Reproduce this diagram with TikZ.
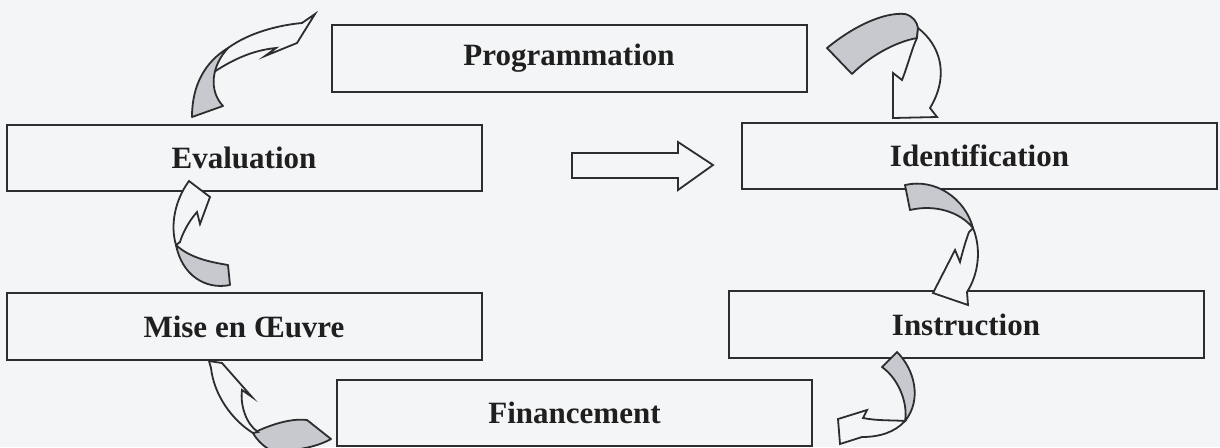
\documentclass[tikz,border=0pt]{standalone}
\usepackage{fontspec}
\setmainfont{Liberation Serif}
\definecolor{bg}{RGB}{244,245,247}
\definecolor{shade}{RGB}{200,201,206}
\definecolor{ink}{RGB}{45,45,48}
\begin{document}
\begin{tikzpicture}[x=0.5pt,y=-0.5pt,
  stagebox/.style={draw=ink,line width=1pt,rectangle,inner sep=0pt,fill=bg,
    minimum width=237.5pt,minimum height=33.3pt,
    font=\fontsize{15.5}{18}\selectfont\bfseries,text=black!88},
  back/.style={draw=ink,fill=shade,line width=0.9pt,line join=round},
  front/.style={draw=ink,fill=bg,line width=0.9pt,line join=miter}]
\useasboundingbox (0,0) rectangle (1220,447);
\clip (0,0) rectangle (1220,447);
\fill[bg] (0,0) rectangle (1220,447);

% stages
\node[stagebox] (prog)  at (569,58.5)  {Programmation};
\node[stagebox] (ident) at (979.5,156) {Identification};
\node[stagebox] (eval)  at (244,158)   {Evaluation};
\node[stagebox] (instr) at (966,324.5) {Instruction};
\node[stagebox] (mise)  at (244,326.5) {Mise en \OE uvre};
\node[stagebox] (fin)   at (574.5,413) {Financement};

% straight block arrow
\draw[front] (572,153) -- (678,153) -- (678,142) -- (713,165) -- (678,190)
  -- (678,178) -- (572,178) -- cycle;

% A: Evaluation -> Programmation
\draw[front] (214,72) .. controls (235,58) and (255,50) .. (276,48) -- (265,56)
  -- (297,43) -- (315,14) -- (302,23) .. controls (280,25) and (250,32) .. (228,48)
  .. controls (220,56) and (216,64) .. (214,72) -- cycle;
\draw[back] (192,117) .. controls (192,85) and (205,62) .. (228,48)
  .. controls (212,65) and (208,90) .. (223,106) -- cycle;

% B: Programmation -> Identification
\draw[back] (827,48) .. controls (855,25) and (885,12) .. (905,14)
  .. controls (913,16) and (917,22) .. (918,28) -- (917,38)
  .. controls (895,42) and (870,56) .. (852,74) -- cycle;
\draw[front] (918,28) .. controls (940,45) and (950,75) .. (930,108) -- (937,117)
  -- (893,118) -- (893,73) -- (902,80) .. controls (908,65) and (912,48) .. (917,38) -- cycle;

% C: Identification -> Instruction
\draw[back] (905,185) .. controls (935,178) and (965,198) .. (973,228)
  .. controls (960,212) and (935,204) .. (910,210) -- cycle;
\draw[front] (973,228) .. controls (982,250) and (978,275) .. (967,292) -- (968,305)
  -- (933,293) -- (955,250) -- (960,262) .. controls (963,250) and (966,240) .. (969,232) -- cycle;

% D: Instruction -> Financement
\draw[back] (897,352) .. controls (915,370) and (922,400) .. (905,421)
  .. controls (908,405) and (900,380) .. (882,367) -- cycle;
\draw[front] (905,421) .. controls (895,432) and (880,437) .. (862,437) -- (840,444)
  -- (838,419) -- (867,410) -- (863,418) .. controls (878,421) and (893,420) .. (905,421) -- cycle;

% E: Financement -> Mise en Oeuvre
\draw[back] (253,433) .. controls (270,425) and (290,418) .. (307,420) -- (331,439)
  .. controls (315,448) and (290,452) .. (270,450) .. controls (262,445) and (257,440) .. (253,433) -- cycle;
\draw[front] (209,361) -- (222,363) -- (252,397) -- (242,390)
  .. controls (240,405) and (246,424) .. (258,432) -- (253,433)
  .. controls (232,420) and (214,395) .. (211,368) -- cycle;

% F: Mise en Oeuvre -> Evaluation
\draw[back] (228,265) -- (230,285) .. controls (205,290) and (182,275) .. (176,245)
  .. controls (190,258) and (210,262) .. (228,265) -- cycle;
\draw[front] (176,245) .. controls (170,225) and (175,200) .. (189,181) -- (210,197)
  -- (200,224) -- (197,212) .. controls (188,222) and (182,235) .. (180,242) -- cycle;
\end{tikzpicture}
\end{document}
